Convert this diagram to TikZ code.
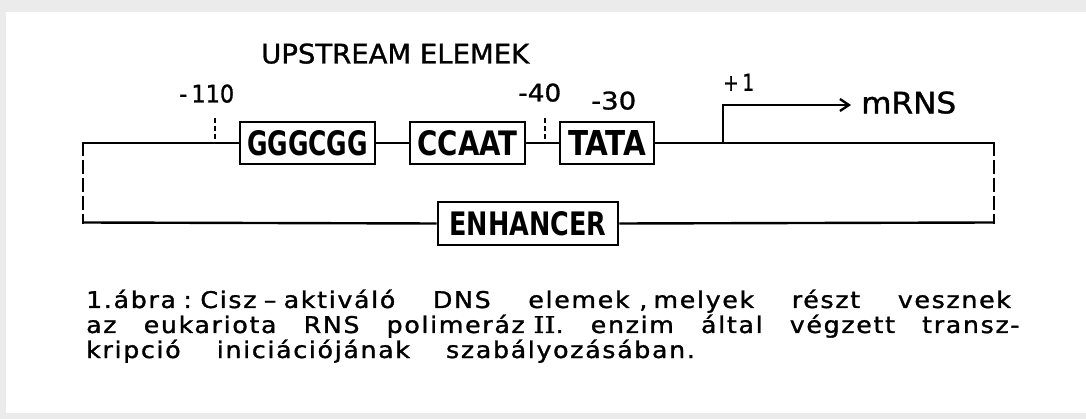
\documentclass[tikz,border=0pt]{standalone}
\usepackage{fontspec}
\setmainfont{DejaVu Sans Condensed}
\newfontfamily\capfont[LetterSpace=6,FakeBold=1.2]{DejaVu Sans Condensed}
\newfontfamily\labfont[FakeBold=1]{DejaVu Sans Condensed}
\newfontfamily\romfont[FakeBold=1]{DejaVu Serif}
\usetikzlibrary{arrows.meta}
\newcommand{\fitbox}[3]{\resizebox{#1pt}{#2pt}{#3}}
\newcommand{\capsize}{\frenchspacing\capfont\fontsize{23}{25}\selectfont}
\newcommand{\capstretch}[2]{\scalebox{1.22}[1]{\capsize\makebox[#1pt][s]{#2}}}
\begin{document}
\begin{tikzpicture}[x=1pt,y=-1pt,line width=2.4pt,
  elem/.style={draw,line width=2.6pt,inner sep=0pt,minimum height=42pt,anchor=center},
  lbl/.style={inner sep=0pt,font=\labfont},
  tick/.style={line width=2pt,dash pattern=on 5pt off 3pt},
  loopline/.style={line width=2.4pt,line cap=rect,dash pattern=on 12pt off 6pt},
  capline/.style={inner sep=0pt,anchor=base west}]
\useasboundingbox (0,0) rectangle (1086,419);
\fill[black!8] (0,0) rectangle (1086,419);
\fill[white] (6,12) rectangle (1086,413);

% labels
\node[lbl,anchor=south west] (up) at (260,65) {\fitbox{268}{20}{UPSTREAM ELEMEK}};
\node[lbl,anchor=south west] (m110) at (178,104) {\fitbox{55}{18}{-\,110}};
\node[lbl,anchor=south west] (m40) at (517,103) {\fitbox{43}{18}{-40}};
\node[lbl,anchor=south west] (m30) at (590,111) {\fitbox{45}{18}{-30}};
\node[lbl,anchor=south west] (p1) at (722,92) {\fitbox{31}{17}{+\,1}};
\node[lbl,anchor=south west] (mrns) at (860,115) {\fitbox{95}{22}{mRNS}};

% boxes
\node[elem,minimum width=135pt] (g) at (307.5,143) {\fitbox{121}{25}{\bfseries GGGCGG}};
\node[elem,minimum width=115pt] (c) at (467.5,143) {\fitbox{100}{25}{\bfseries CCAAT}};
\node[elem,minimum width=94pt] (t) at (607,143) {\fitbox{78}{25}{\bfseries TATA}};
\node[elem,minimum width=180pt,minimum height=43pt] (e) at (528,223.5) {\fitbox{157}{24}{\bfseries ENHANCER}};

% main line and loop
\coordinate (lc) at (83,143);
\coordinate (rc) at (994,143);
\coordinate (lb) at (83,222.5);
\coordinate (rb) at (994,222.5);
\draw (lc) -- (g.west);
\draw (g.east) -- (c.west);
\draw (c.east) -- (t.west);
\draw (t.east) -- (rc);
\draw[loopline] (lc) -- (lb);
\draw[loopline] (rc) -- (rb);
\draw (lb) -- (e.west);
\draw (e.east) -- (rb);

% ticks
\coordinate (t110a) at (215,118);
\coordinate (t110b) at (215,143);
\coordinate (t40a) at (545,118);
\coordinate (t40b) at (545,143);
\draw[tick] (t110a) -- (t110b);
\draw[tick] (t40a) -- (t40b);

% transcription start
\coordinate (ts0) at (723,143);
\coordinate (ts1) at (723,105);
\coordinate (ts2) at (851,105);
\draw[-{Straight Barb[length=9pt,width=12pt,line width=2.3pt]}] (ts0) -- (ts1) -- (ts2);

% caption
\node[capline] (cap1) at (85,308) {\capstretch{758}{1.ábra\hspace{6pt}:\hspace{7pt}Cisz\hspace{6pt}–\hspace{6pt}aktiváló DNS elemek\hspace{8pt},\hspace{5pt}melyek részt vesznek}};
\node[capline] (cap2) at (85,333) {\capstretch{765}{az eukariota RNS polimeráz\hspace{7pt}{\romfont II}. enzim által végzett transz-}};
\node[capline] (cap3) at (85,358) {\capstretch{499}{kripció iniciációjának szabályozásában.}};
\end{tikzpicture}
\end{document}
